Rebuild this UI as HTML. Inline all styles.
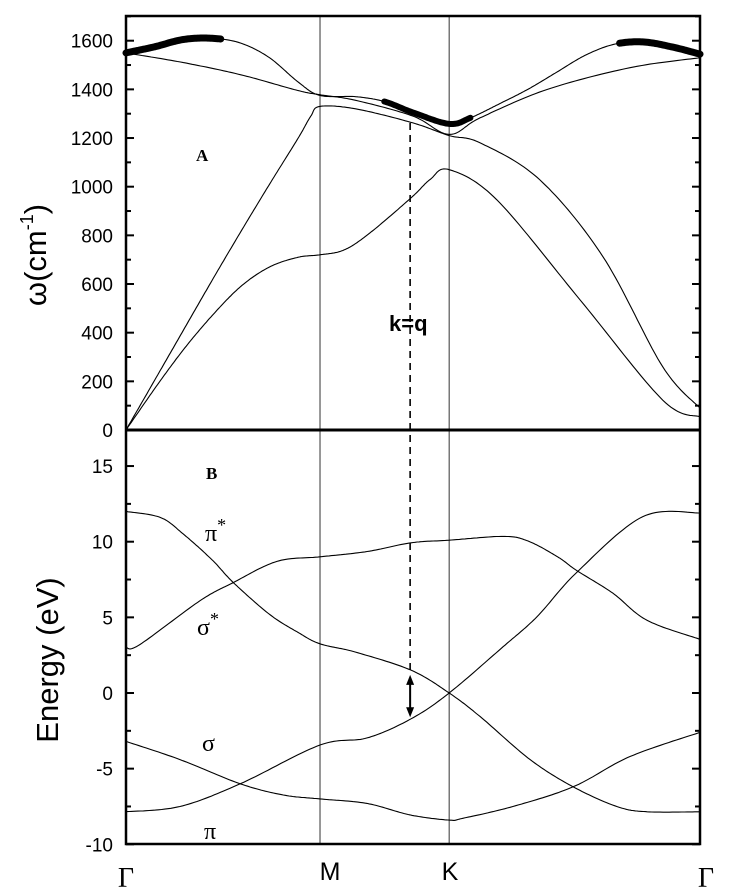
<!DOCTYPE html>
<html><head><meta charset="utf-8"><style>
html,body{margin:0;padding:0;background:#fff;}
svg{display:block;font-family:"Liberation Sans",Arial,sans-serif;}
</style></head><body>
<svg id="chart" width="733" height="894" viewBox="0 0 733 894">
<g id="marks"></g>
<text x="196" y="161" font-family="Liberation Serif" font-weight="bold" font-size="17">A</text>
<text x="206" y="479" font-family="Liberation Serif" font-weight="bold" font-size="17">B</text>
<text x="389" y="331" font-weight="bold" font-size="22">k=q</text>
<text x="205" y="541" font-family="Liberation Serif" font-size="24">π<tspan dy="-10" font-size="18">*</tspan></text>
<text x="197" y="635" font-family="Liberation Serif" font-size="24">σ<tspan dy="-10" font-size="18">*</tspan></text>
<text x="202" y="751" font-family="Liberation Serif" font-size="24">σ</text>
<text x="204" y="839" font-family="Liberation Serif" font-size="24">π</text>
<text transform="translate(46,255) rotate(-90)" text-anchor="middle" font-size="31">ω(cm<tspan dy="-13" font-size="18">-1</tspan><tspan dy="13">)</tspan></text>
<text transform="translate(58,660) rotate(-90)" text-anchor="middle" font-size="31">Energy (eV)</text>
<text x="126" y="887" text-anchor="middle" font-family="Liberation Serif" font-size="28">Γ</text>
<text x="330" y="880" text-anchor="middle" font-size="25">M</text>
<text x="450" y="880" text-anchor="middle" font-size="25">K</text>
<text x="706" y="887" text-anchor="middle" font-family="Liberation Serif" font-size="28">Γ</text>
</svg>
<script>
// k-path positions (Γ=0, M, K, Γ=1)
const symK = [0, 0.338, 0.563, 1];
const phononTicks = [0,200,400,600,800,1000,1200,1400,1600];
const energyTicks = [-10,-5,0,5,10,15];
// phonon branches [k, ω]
const phLOk = [0,0.05,0.1,0.15,0.2,0.25,0.3,0.338,0.4,0.45,0.5,0.563,0.6,0.65,0.7,0.75,0.8,0.85,0.9,0.95,1];
const phLOw = [1550,1575,1605,1610,1590,1530,1430,1375,1370,1350,1305,1258,1283,1340,1400,1470,1540,1585,1595,1575,1545];
const phTOk = [0,0.1,0.2,0.3,0.338,0.4,0.5,0.563,0.617,0.733,0.878,1];
const phTOw = [1550,1510,1460,1395,1378,1355,1290,1215,1283,1399,1489,1530];
const phLAk = [0,0.05,0.1,0.15,0.2,0.25,0.3,0.322,0.338,0.4,0.5,0.563,0.617,0.721,0.831,0.935,1];
const phLAw = [0,205,410,615,815,1010,1200,1290,1330,1320,1262,1210,1180,1028,712,260,90];
const phTAk = [0,0.05,0.1,0.15,0.2,0.25,0.3,0.338,0.38,0.425,0.497,0.53,0.563,0.646,0.791,0.935,1];
const phTAw = [0,170,330,470,590,670,710,720,740,810,955,1030,1070,946,535,123,54];
const thickRanges = [[0,0.165],[0.45,0.6],[0.86,1]];
// electron bands [k, E]
const bPiStarK = [0,0.06,0.1,0.15,0.187,0.25,0.3,0.338,0.4,0.497,0.563,0.617,0.704,0.779,0.855,0.908,1];
const bPiStarE = [12,11.6,10.5,8.8,7.3,5.2,4,3.25,2.7,1.5,0,-1.56,-4.4,-6.2,-7.5,-7.85,-7.85];
const bSigStarK = [0,0.024,0.129,0.187,0.263,0.338,0.42,0.497,0.563,0.657,0.7,0.752,0.785,0.848,0.908,1];
const bSigStarE = [3,3.2,6.1,7.3,8.7,9,9.35,9.93,10.1,10.35,10.05,9.0,8.1,6.6,4.8,3.55];
const bPiK = [0,0.094,0.199,0.338,0.42,0.497,0.563,0.657,0.716,0.786,0.9,1];
const bPiE = [-7.85,-7.5,-6,-3.44,-2.97,-1.7,0,3.06,5.04,8,11.65,11.9];
const bSigK = [0,0.094,0.199,0.274,0.338,0.42,0.495,0.563,0.587,0.674,0.779,0.878,1];
const bSigE = [-3.2,-4.4,-6,-6.74,-7,-7.3,-8.06,-8.4,-8.28,-7.5,-6.2,-4.2,-2.6];
const qK = 0.495, arrowTop = 1.2, arrowBot = -1.6, dashTopW = 1262;

const X0=126,X1=700,TOP=16,MID=430,BOT=844;
const xs=k=>X0+k*(X1-X0);
const yPh=w=>MID-w*(MID-40.7)/1600;
const yE=e=>693-e*15.13;
const NS='http://www.w3.org/2000/svg';
const g=document.getElementById('marks');
function mk(tag,attrs){const e=document.createElementNS(NS,tag);for(const a in attrs)e.setAttribute(a,attrs[a]);g.appendChild(e);return e;}
function spline(ks,vs,fy,lo,hi){
  const P=ks.map((k,i)=>[xs(k),fy(vs[i])]);
  let pts=[];
  for(let i=0;i<P.length-1;i++){
    const p0=P[Math.max(0,i-1)],p1=P[i],p2=P[i+1],p3=P[Math.min(P.length-1,i+2)];
    for(let t=0;t<1;t+=0.05){
      const t2=t*t,t3=t2*t;
      const x=0.5*((2*p1[0])+(-p0[0]+p2[0])*t+(2*p0[0]-5*p1[0]+4*p2[0]-p3[0])*t2+(-p0[0]+3*p1[0]-3*p2[0]+p3[0])*t3);
      const y=0.5*((2*p1[1])+(-p0[1]+p2[1])*t+(2*p0[1]-5*p1[1]+4*p2[1]-p3[1])*t2+(-p0[1]+3*p1[1]-3*p2[1]+p3[1])*t3);
      pts.push([x,y]);
    }
  }
  pts.push(P[P.length-1]);
  if(lo!==undefined) pts=pts.filter(p=>p[0]>=xs(lo)-0.01&&p[0]<=xs(hi)+0.01);
  return 'M'+pts.map(p=>p[0].toFixed(1)+','+p[1].toFixed(1)).join('L');
}
[1,2].forEach(i=>{
  const l=mk('line',{x1:xs(symK[i]),x2:xs(symK[i]),y1:TOP,y2:BOT,stroke:'#333','stroke-width':1});
  
  
});
const phon=[[phLOk,phLOw,'phonon-lo-branch'],[phTOk,phTOw,'phonon-to-branch'],[phLAk,phLAw,'phonon-la-branch'],[phTAk,phTAw,'phonon-ta-branch']];
phon.forEach(b=>{
  const p=mk('path',{d:spline(b[0],b[1],yPh),fill:'none',stroke:'#000','stroke-width':1.1});
  
  
});
thickRanges.forEach((r,i)=>{
  const p=mk('path',{d:spline(phLOk,phLOw,yPh,r[0],r[1]),fill:'none',stroke:'#000','stroke-width':i===1?6:7,'stroke-linecap':'round'});
  
  
});
const bands=[[bPiStarK,bPiStarE,'band-pi-star'],[bSigStarK,bSigStarE,'band-sigma-star'],[bPiK,bPiE,'band-pi'],[bSigK,bSigE,'band-sigma']];
bands.forEach(b=>{
  const p=mk('path',{d:spline(b[0],b[1],yE),fill:'none',stroke:'#000','stroke-width':1.1});
  
  
});
const dl=mk('line',{x1:xs(qK),x2:xs(qK),y1:yPh(dashTopW),y2:yE(1.5),stroke:'#000','stroke-width':1.6,'stroke-dasharray':'7,5'});


const ar=mk('line',{x1:xs(qK),x2:xs(qK),y1:yE(arrowTop)+6,y2:yE(arrowBot)-6,stroke:'#000','stroke-width':2});


const ax=xs(qK);
const h1=mk('polygon',{points:`${ax},${yE(arrowTop)} ${ax-4},${yE(arrowTop)+10} ${ax+4},${yE(arrowTop)+10}`,fill:'#000'});


const h2=mk('polygon',{points:`${ax},${yE(arrowBot)} ${ax-4},${yE(arrowBot)-10} ${ax+4},${yE(arrowBot)-10}`,fill:'#000'});


const fr=mk('rect',{x:X0,y:TOP,width:X1-X0,height:BOT-TOP,fill:'none',stroke:'#000','stroke-width':2.5});


const md=mk('line',{x1:X0,x2:X1,y1:MID,y2:MID,stroke:'#000','stroke-width':3});


for(let w=0;w<=1700;w+=100){
  const major=w%200===0, y=yPh(w), L=major?8:5;
  const t1=mk('line',{x1:X0,x2:X0+L,y1:y,y2:y,stroke:'#000','stroke-width':2});
  
  
  const t2=mk('line',{x1:X1-L,x2:X1,y1:y,y2:y,stroke:'#000','stroke-width':2});
  
  
}
phononTicks.forEach(w=>{
  const t=mk('text',{x:113,y:yPh(w)+7,'text-anchor':'end','font-size':19});
  t.textContent=w;
  
  
});
for(let e=-10;e<=17;e+=2.5){
  const major=e%5===0, y=yE(e), L=major?8:5;
  const t1=mk('line',{x1:X0,x2:X0+L,y1:y,y2:y,stroke:'#000','stroke-width':2});
  
  
  const t2=mk('line',{x1:X1-L,x2:X1,y1:y,y2:y,stroke:'#000','stroke-width':2});
  
  
}
energyTicks.forEach(e=>{
  const t=mk('text',{x:113,y:yE(e)+7,'text-anchor':'end','font-size':19});
  t.textContent=e;
  
  
});
</script>
</body></html>
